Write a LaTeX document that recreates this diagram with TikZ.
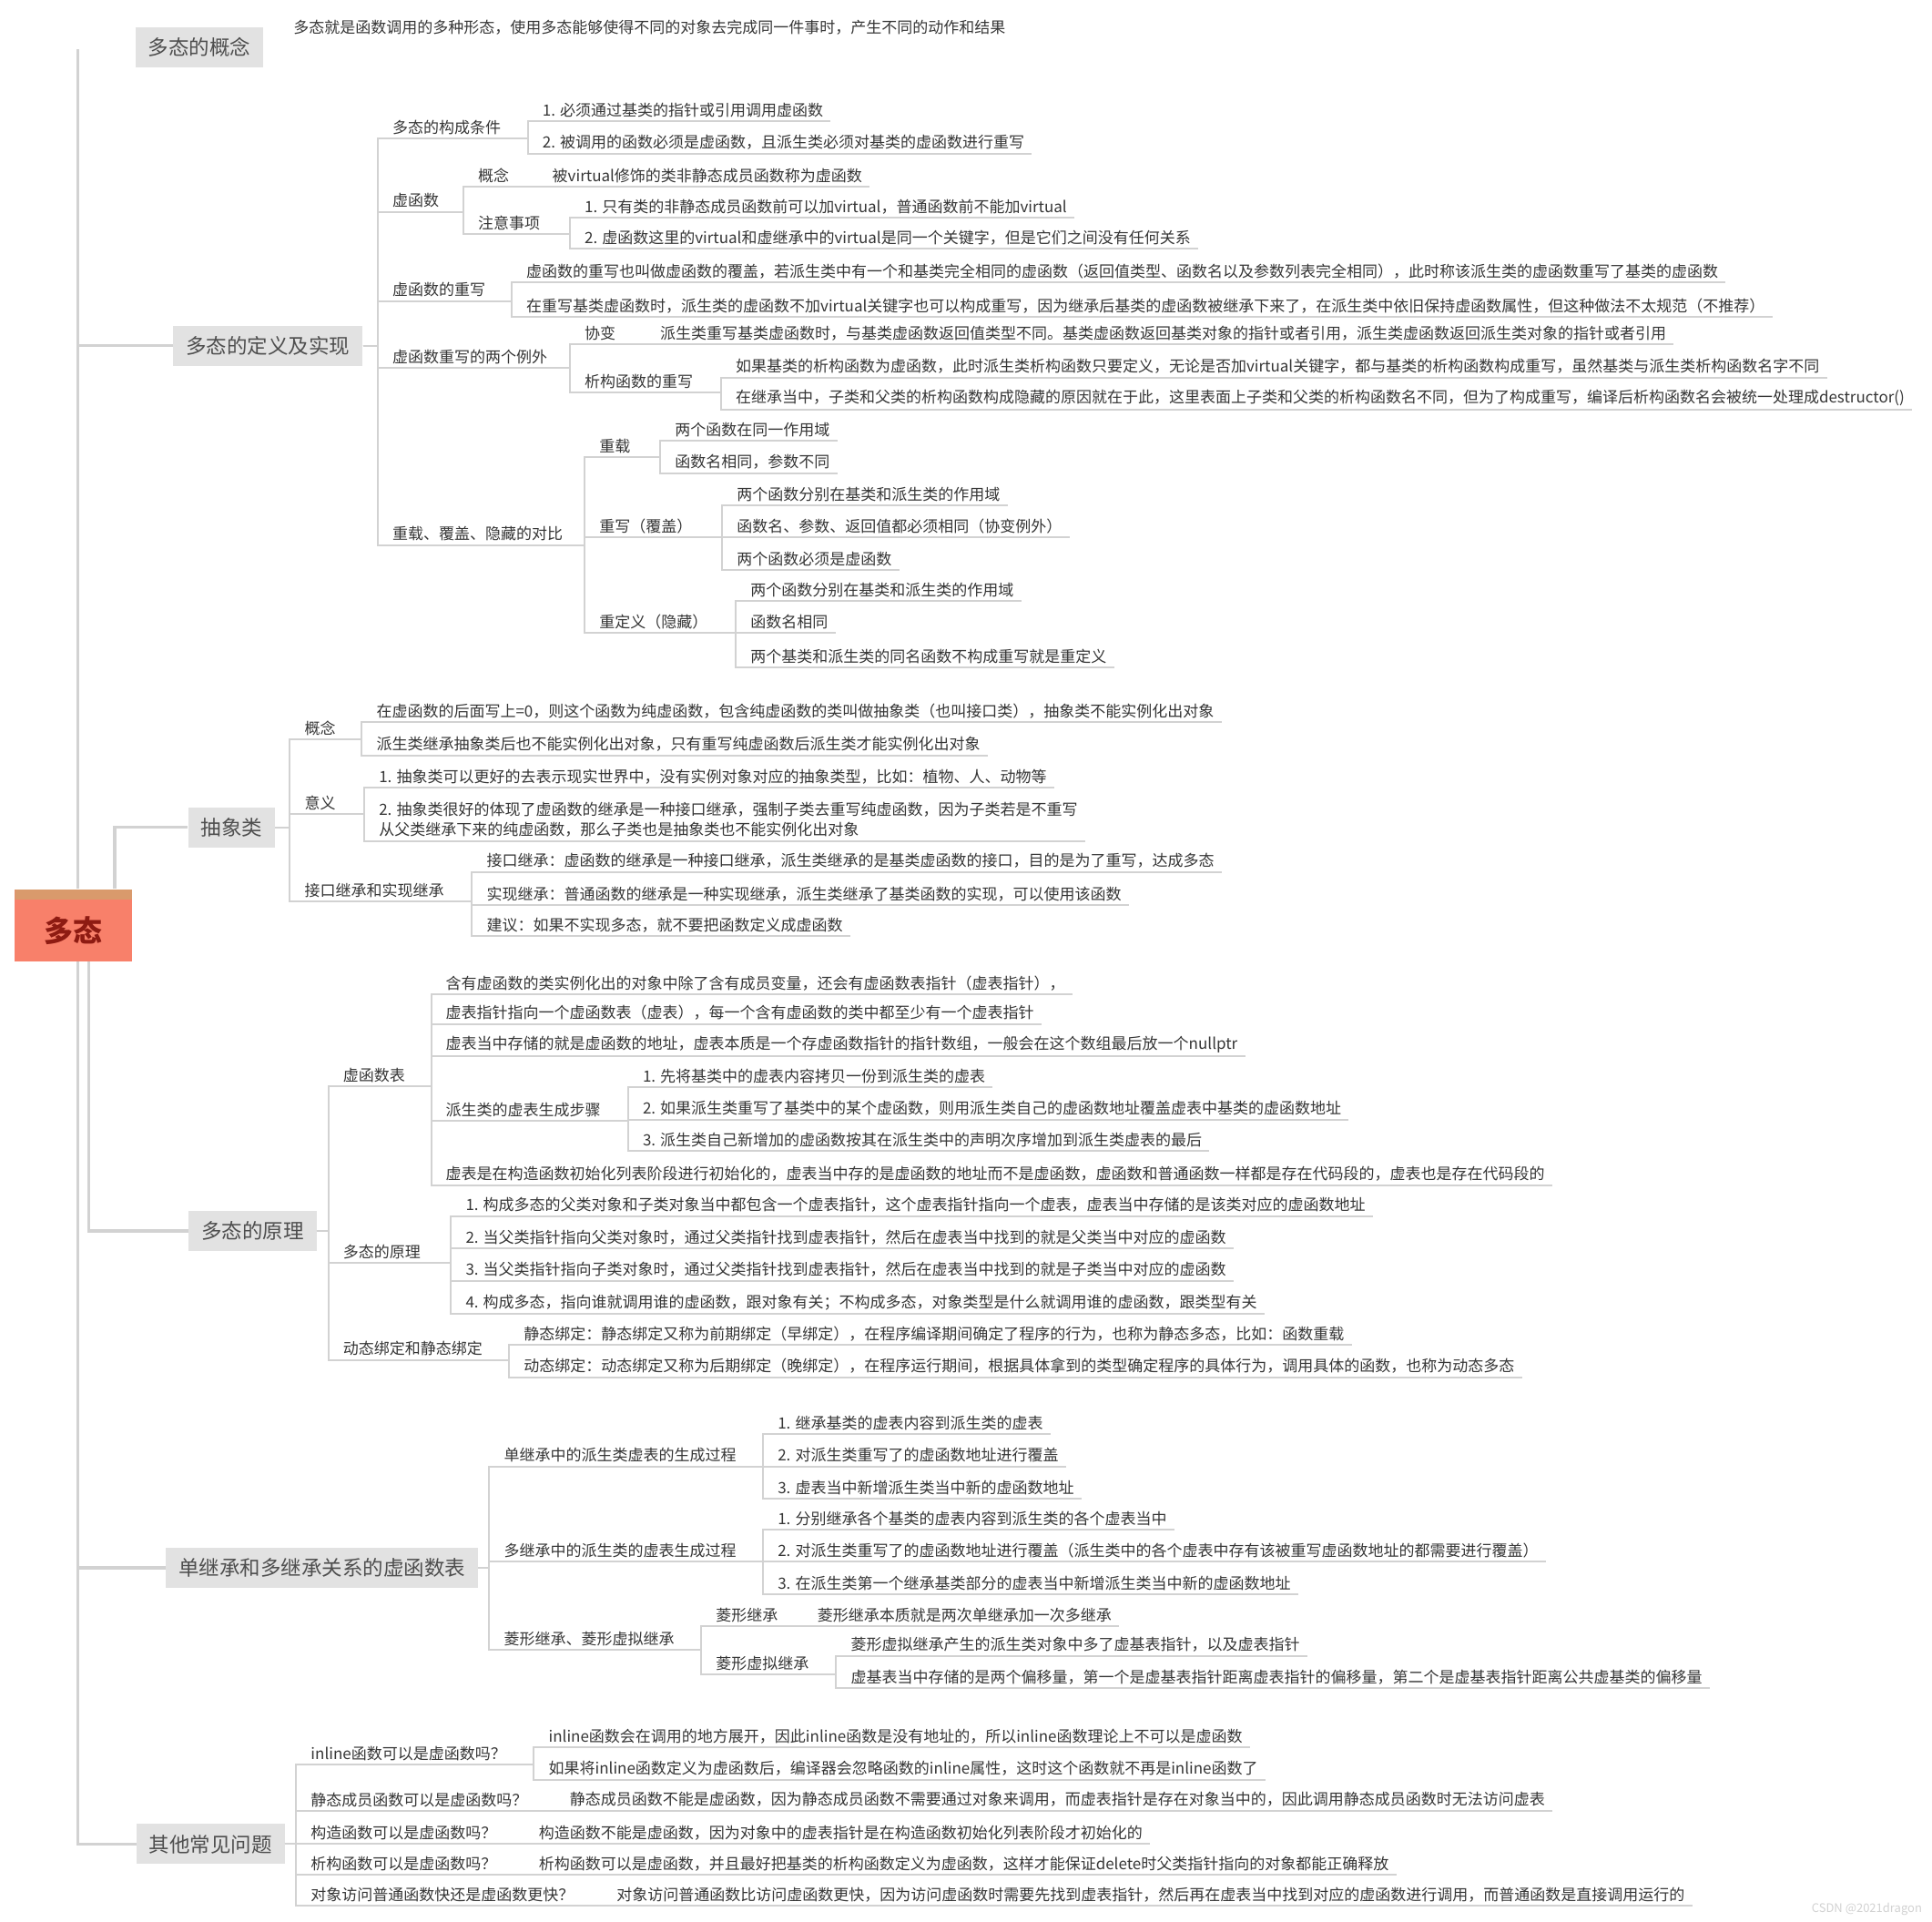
\documentclass[tikz,border=0pt]{standalone}
\usepackage{fontspec}
\setmainfont{Noto Sans CJK SC}
\usetikzlibrary{calc}
\definecolor{linegray}{HTML}{D2D2D2}
\definecolor{boxgray}{HTML}{E2E2E2}
\definecolor{txt}{HTML}{363636}
\definecolor{boxtxt}{HTML}{4E4E4E}
\definecolor{rootfill}{HTML}{F8806A}
\definecolor{roottop}{HTML}{D99A6C}
\definecolor{roottxt}{HTML}{8E1B12}
\tikzstyle{conn} = [draw=linegray, line width=2pt]
\tikzstyle{trunk} = [draw=linegray, line width=3.5pt]
\tikzstyle{plain} = [inner xsep=8pt, inner ysep=4pt, text=txt,
    font=\fontsize{17}{22}\selectfont]
\tikzstyle{leaf} = [plain, anchor=south west,
    append after command={(\tikzlastnode.south west) edge[conn] (\tikzlastnode.south east)}]
\tikzstyle{topic} = [fill=boxgray, text=boxtxt, font=\fontsize{22.5}{26}\selectfont,
    inner xsep=14pt, minimum height=44pt]
\tikzstyle{central} = [fill=rootfill, text=roottxt, font=\fontsize{32}{36}\selectfont\bfseries,
    minimum width=129pt, minimum height=79pt, text height=40pt, text depth=4pt,
    path picture={\fill[roottop] (path picture bounding box.north west)
      rectangle ([yshift=-11pt]path picture bounding box.north east);}]
\begin{document}
\begin{tikzpicture}[x=1.360256pt,y=-1.360256pt]
  \fill[white] (0,0) rectangle (1560,1551.9);
  \useasboundingbox (0,0) rectangle (1560,1551.9);

  \node[central] (root) at (59.5,747) {多态};

  % 多态的概念
  \node[topic] (s1) at (161,38) {多态的概念};
  \node[plain,anchor=west] (s1txt) at (231,22) {多态就是函数调用的多种形态，使用多态能够使得不同的对象去完成同一件事时，产生不同的动作和结果};

  % 多态的定义及实现
  \node[topic] (s2) at (216.5,279) {多态的定义及实现};
  \node[leaf] (cond) at (311,112) {多态的构成条件};
  \node[leaf] (cond1) at (432,98) {1. 必须通过基类的指针或引用调用虚函数};
  \node[leaf] (cond2) at (432,124) {2. 被调用的函数必须是虚函数，且派生类必须对基类的虚函数进行重写};
  \node[leaf] (vfunc) at (311,171) {虚函数};
  \node[leaf] (vconcept) at (380,151) {概念};
  \node[leaf] (vconcepttxt) at (440,151) {被virtual修饰的类非静态成员函数称为虚函数};
  \node[leaf] (vnote) at (380,189) {注意事项};
  \node[leaf] (vnote1) at (466,176) {1. 只有类的非静态成员函数前可以加virtual，普通函数前不能加virtual};
  \node[leaf] (vnote2) at (466,201) {2. 虚函数这里的virtual和虚继承中的virtual是同一个关键字，但是它们之间没有任何关系};
  \node[leaf] (override) at (311,243) {虚函数的重写};
  \node[leaf] (over1) at (419,228) {虚函数的重写也叫做虚函数的覆盖，若派生类中有一个和基类完全相同的虚函数（返回值类型、函数名以及参数列表完全相同），此时称该派生类的虚函数重写了基类的虚函数};
  \node[leaf] (over2) at (419,256) {在重写基类虚函数时，派生类的虚函数不加virtual关键字也可以构成重写，因为继承后基类的虚函数被继承下来了，在派生类中依旧保持虚函数属性，但这种做法不太规范（不推荐）};
  \node[leaf] (except) at (311,297) {虚函数重写的两个例外};
  \node[leaf] (covar) at (466,278) {协变};
  \node[leaf] (covartxt) at (527,278) {派生类重写基类虚函数时，与基类虚函数返回值类型不同。基类虚函数返回基类对象的指针或者引用，派生类虚函数返回派生类对象的指针或者引用};
  \node[leaf] (dtor) at (466,317) {析构函数的重写};
  \node[leaf] (dtor1) at (588,305) {如果基类的析构函数为虚函数，此时派生类析构函数只要定义，无论是否加virtual关键字，都与基类的析构函数构成重写，虽然基类与派生类析构函数名字不同};
  \node[leaf] (dtor2) at (588,331) {在继承当中，子类和父类的析构函数构成隐藏的原因就在于此，这里表面上子类和父类的析构函数名不同，但为了构成重写，编译后析构函数名会被统一处理成destructor()};
  \node[leaf] (compare) at (311,440) {重载、覆盖、隐藏的对比};
  \node[leaf] (overload) at (478,369) {重载};
  \node[leaf] (overload1) at (539,356) {两个函数在同一作用域};
  \node[leaf] (overload2) at (539,382) {函数名相同，参数不同};
  \node[leaf] (rewrite) at (478,434) {重写（覆盖）};
  \node[leaf] (rewrite1) at (589,408) {两个函数分别在基类和派生类的作用域};
  \node[leaf] (rewrite2) at (589,434) {函数名、参数、返回值都必须相同（协变例外）};
  \node[leaf] (rewrite3) at (589,460) {两个函数必须是虚函数};
  \node[leaf] (hide) at (478,511) {重定义（隐藏）};
  \node[leaf] (hide1) at (600,485) {两个函数分别在基类和派生类的作用域};
  \node[leaf] (hide2) at (600,511) {函数名相同};
  \node[leaf] (hide3) at (600,539) {两个基类和派生类的同名函数不构成重写就是重定义};

  % 抽象类
  \node[topic] (s3) at (187,668) {抽象类};
  \node[leaf] (absconcept) at (240,597) {概念};
  \node[leaf] (absconcept1) at (298,583) {在虚函数的后面写上=0，则这个函数为纯虚函数，包含纯虚函数的类叫做抽象类（也叫接口类），抽象类不能实例化出对象};
  \node[leaf] (absconcept2) at (298,610) {派生类继承抽象类后也不能实例化出对象，只有重写纯虚函数后派生类才能实例化出对象};
  \node[leaf] (absmeaning) at (240,657) {意义};
  \node[leaf] (absmeaning1) at (300,636) {1. 抽象类可以更好的去表示现实世界中，没有实例对象对应的抽象类型，比如：植物、人、动物等};
  \node[leaf,align=left] (absmeaning2) at (300,679) {2. 抽象类很好的体现了虚函数的继承是一种接口继承，强制子类去重写纯虚函数，因为子类若是不重写\\从父类继承下来的纯虚函数，那么子类也是抽象类也不能实例化出对象};
  \node[leaf] (inherit) at (240,728) {接口继承和实现继承};
  \node[leaf] (inherit1) at (387,704) {接口继承：虚函数的继承是一种接口继承，派生类继承的是基类虚函数的接口，目的是为了重写，达成多态};
  \node[leaf] (inherit2) at (387,731) {实现继承：普通函数的继承是一种实现继承，派生类继承了基类函数的实现，可以使用该函数};
  \node[leaf] (inherit3) at (387,756) {建议：如果不实现多态，就不要把函数定义成虚函数};

  % 多态的原理
  \node[topic] (s4) at (204,994) {多态的原理};
  \node[leaf] (vtable) at (271,877) {虚函数表};
  \node[leaf] (vtable1) at (354,803) {含有虚函数的类实例化出的对象中除了含有成员变量，还会有虚函数表指针（虚表指针），};
  \node[leaf] (vtable2) at (354,827) {虚表指针指向一个虚函数表（虚表），每一个含有虚函数的类中都至少有一个虚表指针};
  \node[leaf] (vtable3) at (354,853) {虚表当中存储的就是虚函数的地址，虚表本质是一个存虚函数指针的指针数组，一般会在这个数组最后放一个nullptr};
  \node[leaf] (vtstep) at (354,905) {派生类的虚表生成步骤};
  \node[leaf] (vtstep1) at (513,878) {1. 先将基类中的虚表内容拷贝一份到派生类的虚表};
  \node[leaf] (vtstep2) at (513,904) {2. 如果派生类重写了基类中的某个虚函数，则用派生类自己的虚函数地址覆盖虚表中基类的虚函数地址};
  \node[leaf] (vtstep3) at (513,929) {3. 派生类自己新增加的虚函数按其在派生类中的声明次序增加到派生类虚表的最后};
  \node[leaf] (vtable4) at (354,957) {虚表是在构造函数初始化列表阶段进行初始化的，虚表当中存的是虚函数的地址而不是虚函数，虚函数和普通函数一样都是存在代码段的，虚表也是存在代码段的};
  \node[leaf] (principle) at (271,1020) {多态的原理};
  \node[leaf] (principle1) at (370,982) {1. 构成多态的父类对象和子类对象当中都包含一个虚表指针，这个虚表指针指向一个虚表，虚表当中存储的是该类对应的虚函数地址};
  \node[leaf] (principle2) at (370,1008) {2. 当父类指针指向父类对象时，通过父类指针找到虚表指针，然后在虚表当中找到的就是父类当中对应的虚函数};
  \node[leaf] (principle3) at (370,1034) {3. 当父类指针指向子类对象时，通过父类指针找到虚表指针，然后在虚表当中找到的就是子类当中对应的虚函数};
  \node[leaf] (principle4) at (370,1061) {4. 构成多态，指向谁就调用谁的虚函数，跟对象有关；不构成多态，对象类型是什么就调用谁的虚函数，跟类型有关};
  \node[leaf] (binding) at (271,1098) {动态绑定和静态绑定};
  \node[leaf] (binding1) at (417,1086) {静态绑定：静态绑定又称为前期绑定（早绑定），在程序编译期间确定了程序的行为，也称为静态多态，比如：函数重载};
  \node[leaf] (binding2) at (417,1112) {动态绑定：动态绑定又称为后期绑定（晚绑定），在程序运行期间，根据具体拿到的类型确定程序的具体行为，调用具体的函数，也称为动态多态};

  % 单继承和多继承关系的虚函数表
  \node[topic] (s5) at (260,1266) {单继承和多继承关系的虚函数表};
  \node[leaf] (single) at (401,1184) {单继承中的派生类虚表的生成过程};
  \node[leaf] (single1) at (622,1158) {1. 继承基类的虚表内容到派生类的虚表};
  \node[leaf] (single2) at (622,1184) {2. 对派生类重写了的虚函数地址进行覆盖};
  \node[leaf] (single3) at (622,1210) {3. 虚表当中新增派生类当中新的虚函数地址};
  \node[leaf] (multi) at (401,1261) {多继承中的派生类的虚表生成过程};
  \node[leaf] (multi1) at (622,1235) {1. 分别继承各个基类的虚表内容到派生类的各个虚表当中};
  \node[leaf] (multi2) at (622,1261) {2. 对派生类重写了的虚函数地址进行覆盖（派生类中的各个虚表中存有该被重写虚函数地址的都需要进行覆盖）};
  \node[leaf] (multi3) at (622,1287) {3. 在派生类第一个继承基类部分的虚表当中新增派生类当中新的虚函数地址};
  \node[leaf] (diamond) at (401,1332) {菱形继承、菱形虚拟继承};
  \node[leaf] (diainh) at (572,1313) {菱形继承};
  \node[leaf] (diainhtxt) at (654,1313) {菱形继承本质就是两次单继承加一次多继承};
  \node[leaf] (diavir) at (572,1352) {菱形虚拟继承};
  \node[leaf] (diavir1) at (681,1337) {菱形虚拟继承产生的派生类对象中多了虚基表指针，以及虚表指针};
  \node[leaf] (diavir2) at (681,1363) {虚基表当中存储的是两个偏移量，第一个是虚基表指针距离虚表指针的偏移量，第二个是虚基表指针距离公共虚基类的偏移量};

  % 其他常见问题
  \node[topic] (s6) at (170,1489) {其他常见问题};
  \node[leaf] (qinline) at (245,1425) {inline函数可以是虚函数吗？};
  \node[leaf] (qinline1) at (437,1411) {inline函数会在调用的地方展开，因此inline函数是没有地址的，所以inline函数理论上不可以是虚函数};
  \node[leaf] (qinline2) at (437,1437) {如果将inline函数定义为虚函数后，编译器会忽略函数的inline属性，这时这个函数就不再是inline函数了};
  \node[leaf] (qstatic) at (245,1462) {静态成员函数可以是虚函数吗？};
  \node[leaf] (qstatictxt) at (454,1462) {静态成员函数不能是虚函数，因为静态成员函数不需要通过对象来调用，而虚表指针是存在对象当中的，因此调用静态成员函数时无法访问虚表};
  \node[leaf] (qctor) at (245,1489) {构造函数可以是虚函数吗？};
  \node[leaf] (qctortxt) at (429,1489) {构造函数不能是虚函数，因为对象中的虚表指针是在构造函数初始化列表阶段才初始化的};
  \node[leaf] (qdtor) at (245,1514) {析构函数可以是虚函数吗？};
  \node[leaf] (qdtortxt) at (429,1514) {析构函数可以是虚函数，并且最好把基类的析构函数定义为虚函数，这样才能保证delete时父类指针指向的对象都能正确释放};
  \node[leaf] (qspeed) at (245,1539) {对象访问普通函数快还是虚函数更快？};
  \node[leaf] (qspeedtxt) at (492,1539) {对象访问普通函数比访问虚函数更快，因为访问虚函数时需要先找到虚表指针，然后再在虚表当中找到对应的虚函数进行调用，而普通函数是直接调用运行的};

  \node[text=linegray, font=\fontsize{13}{15}\selectfont, anchor=south east, inner sep=0pt] (mark) at (1552,1547) {CSDN @2021dragon};

  % root to topics
  \coordinate (toptip) at (63,40);
  \draw[trunk] ($(root.north)+(3.5,0)$) -- (toptip);
  \draw[trunk] ($(root.north)+(3.5,0)$) |- (s2.west);
  \draw[trunk] ($(root.north)+(33,0)$) |- (s3.west);
  \draw[trunk] ($(root.south)+(12,0)$) |- (s4.west);
  \draw[trunk] ($(root.south)+(3.5,0)$) |- (s5.west);
  \draw[trunk] ($(root.south)+(3.5,0)$) |- (s6.west);

  % topics to first level
  \foreach \p/\c in {s2/cond, s2/vfunc, s2/override, s2/except, s2/compare,
      s3/absconcept, s3/absmeaning, s3/inherit,
      s4/vtable, s4/principle, s4/binding,
      s5/single, s5/multi, s5/diamond,
      s6/qinline, s6/qstatic, s6/qctor, s6/qdtor, s6/qspeed}
    \draw[conn] (\p.east) -| ([xshift=-8pt]\c.south west) -- (\c.south west);

  % deeper levels
  \foreach \p/\c in {cond/cond1, cond/cond2, vfunc/vconcept, vfunc/vnote,
      vconcept/vconcepttxt, vnote/vnote1, vnote/vnote2,
      override/over1, override/over2, except/covar, except/dtor,
      covar/covartxt, dtor/dtor1, dtor/dtor2,
      compare/overload, compare/rewrite, compare/hide,
      overload/overload1, overload/overload2,
      rewrite/rewrite1, rewrite/rewrite2, rewrite/rewrite3,
      hide/hide1, hide/hide2, hide/hide3,
      absconcept/absconcept1, absconcept/absconcept2,
      absmeaning/absmeaning1, absmeaning/absmeaning2,
      inherit/inherit1, inherit/inherit2, inherit/inherit3,
      vtable/vtable1, vtable/vtable2, vtable/vtable3, vtable/vtstep, vtable/vtable4,
      vtstep/vtstep1, vtstep/vtstep2, vtstep/vtstep3,
      principle/principle1, principle/principle2, principle/principle3, principle/principle4,
      binding/binding1, binding/binding2,
      single/single1, single/single2, single/single3,
      multi/multi1, multi/multi2, multi/multi3,
      diamond/diainh, diamond/diavir, diainh/diainhtxt,
      diavir/diavir1, diavir/diavir2,
      qinline/qinline1, qinline/qinline2, qstatic/qstatictxt,
      qctor/qctortxt, qdtor/qdtortxt, qspeed/qspeedtxt}
    \draw[conn] (\p.south east) -| ([xshift=-8pt]\c.south west) -- (\c.south west);
\end{tikzpicture}
\end{document}
